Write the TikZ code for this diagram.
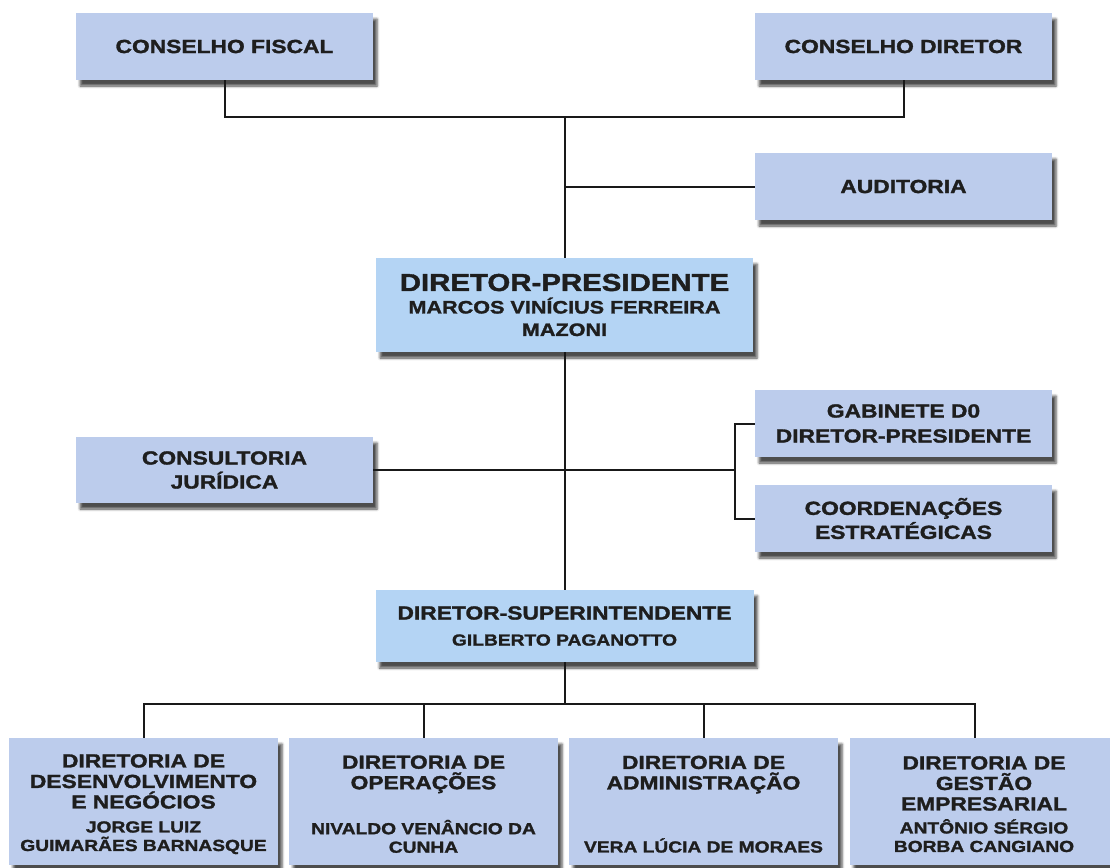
\documentclass[tikz,border=0pt]{standalone}
\usepackage{fontspec}
\newfontfamily\hvfont{Liberation Sans}[FakeStretch=1.2, BoldFeatures={FakeBold=1.6}]
\usetikzlibrary{shadows.blur}
\definecolor{boxa}{RGB}{188,204,236}
\definecolor{boxb}{RGB}{180,212,244}
\definecolor{txtc}{RGB}{30,30,30}
\newcommand\nmsize{\fontsize{16}{20}\selectfont}
\newcommand\nmdp{\fontsize{18}{22}\selectfont}
\newcommand\topstrut{\rule{0pt}{18.6pt}}
\tikzset{
  orgbox/.style={draw=none, fill=boxa, inner sep=0pt, minimum width=297pt, minimum height=67pt,
    align=center, text=txtc, font=\hvfont\bfseries\fontsize{19}{24}\selectfont,
    blur shadow={shadow xshift=4pt, shadow yshift=-6pt, shadow blur radius=2.5pt, shadow opacity=70}},
  dirbox/.style={orgbox, fill=boxb},
  botbox/.style={orgbox, minimum width=269pt, minimum height=127pt,
    font=\hvfont\bfseries\fontsize{19}{20.5}\selectfont},
  link/.style={draw=black!90, line width=2pt},
}
\begin{document}
\begin{tikzpicture}[x=1pt, y=-1pt]
\useasboundingbox (0,0) rectangle (1110,867);
\clip (0,0) rectangle (1110,867);
% top row
\node[orgbox] (cf) at (224.5,46.5) {CONSELHO FISCAL};
\node[orgbox] (cd) at (903.5,46.5) {CONSELHO DIRETOR};
\node[orgbox] (aud) at (903.5,186.5) {AUDITORIA};
% director-presidente
\node[dirbox, minimum width=377pt, minimum height=94pt,
  font=\hvfont\bfseries\fontsize{24.5}{22.5}\selectfont] (dp) at (564.5,305)
  {DIRETOR-PRESIDENTE\\\nmdp MARCOS VINÍCIUS FERREIRA\\\nmdp MAZONI};
% staff
\node[orgbox] (gab) at (903.5,423.5) {GABINETE D0\\[1pt]DIRETOR-PRESIDENTE};
\node[orgbox] (coo) at (903.5,518.5) {COORDENAÇÕES\\ESTRATÉGICAS};
\node[orgbox, minimum height=66pt] (cj) at (224.5,470) {CONSULTORIA\\JURÍDICA};
% superintendente
\node[dirbox, minimum width=378pt, minimum height=72pt] (ds) at (564.5,626)
  {DIRETOR-SUPERINTENDENTE\\[2pt]\nmsize GILBERTO PAGANOTTO};
% bottom row
\node[botbox] (d1) at (143.5,801.5)
  {\topstrut DIRETORIA DE\\DESENVOLVIMENTO\\E NEGÓCIOS\\[3.5pt]\nmsize JORGE LUIZ\\[-2pt]\nmsize GUIMARÃES BARNASQUE};
\node[botbox] (d2) at (423.5,801.5)
  {\topstrut DIRETORIA DE\\OPERAÇÕES\\[24.5pt]\nmsize NIVALDO VENÂNCIO DA\\[-2pt]\nmsize CUNHA};
\node[botbox] (d3) at (703.5,801.5)
  {\topstrut DIRETORIA DE\\ADMINISTRAÇÃO\\[42.5pt]\nmsize VERA LÚCIA DE MORAES};
\node[botbox] (d4) at (984,801.5)
  {\topstrut DIRETORIA DE\\GESTÃO\\EMPRESARIAL\\[2.5pt]\nmsize ANTÔNIO SÉRGIO\\[-2pt]\nmsize BORBA CANGIANO};
% junctions
\coordinate (topj) at (564.5,117);
\coordinate (brk) at (735,470);
\coordinate (botj) at (564.5,704);
\coordinate (d4top) at (975,738);
% connectors
\draw[link] (cf.south) |- (topj) -| (cd.south);
\draw[link] (topj) -- (dp.north);
\draw[link] (aud.west) -- (aud.west -| dp.north);
\draw[link] (dp.south) -- (ds.north);
\draw[link] (cj.east) -- (brk);
\draw[link] (gab.west) -| (brk) |- (coo.west);
\draw[link] (ds.south) -- (botj);
\draw[link] (d1.north) |- (botj) -| (d4top);
\draw[link] (d2.north) -- (d2.north |- botj);
\draw[link] (d3.north) -- (d3.north |- botj);
\end{tikzpicture}
\end{document}
